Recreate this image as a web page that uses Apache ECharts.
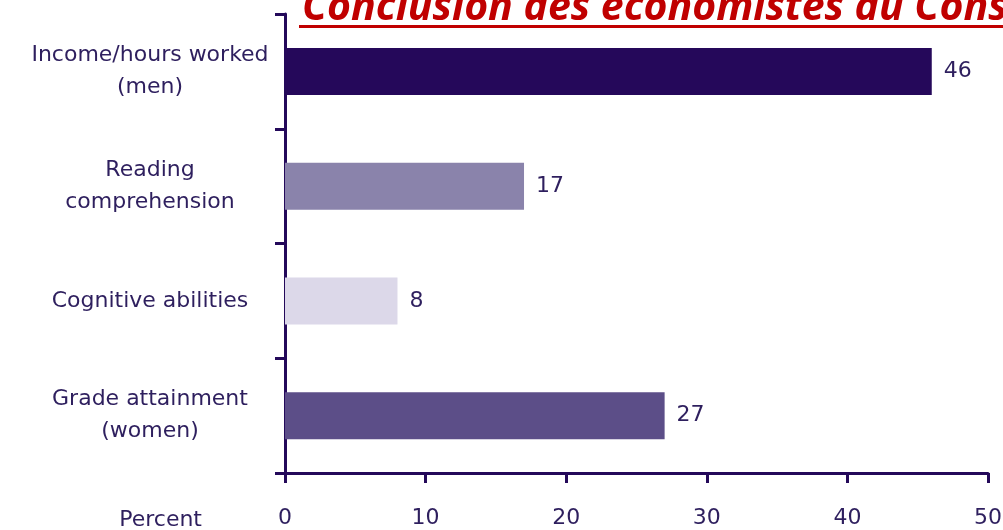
<!DOCTYPE html>
<html>
<head>
<meta charset="utf-8">
<script src="https://cdn.jsdelivr.net/npm/echarts@6/dist/echarts.min.js"></script>
<style>
  html, body { margin: 0; padding: 0; background: #fff; }
  #chart { width: 1003px; height: 530px; }
</style>
</head>
<body>
<div id="chart"></div>
<script>
// data
const categories = [
  'Income/hours worked\n(men)',
  'Reading\ncomprehension',
  'Cognitive abilities',
  'Grade attainment\n(women)'
];
const values = [46, 17, 8, 27];
const barColors = ['#25085a', '#8a83ab', '#dcd8e9', '#5c4e88'];
const xTicks = [0, 10, 20, 30, 40, 50];
const titleText = 'Conclusion des économistes du Conseil';

const axisColor = '#24095a';
const textColor = '#2e1f5e';

let myChart = echarts.init(document.getElementById('chart'));
let option = {
  backgroundColor: '#fff',
  animation: false,
  grid: {
    left: 285,
    right: 15,
    top: 14,
    bottom: 57,
    outerBoundsMode: 'none',
    containLabel: false
  },
  graphic: [
    {
      type: 'text',
      left: 302,
      top: -12,
      style: {
        text: titleText,
        fill: '#c00000',
        font: 'italic bold 41px "Open Sans"'
      }
    },
    {
      type: 'rect',
      shape: { x: 299, y: 25, width: 720, height: 3 },
      style: { fill: '#c00000' }
    }
  ],
  xAxis: {
    type: 'value',
    min: xTicks[0],
    max: xTicks[xTicks.length - 1],
    interval: 10,
    name: 'Percent',
    nameLocation: 'start',
    nameGap: 83,
    nameTextStyle: {
      color: textColor,
      fontFamily: 'DejaVu Sans',
      fontSize: 22,
      verticalAlign: 'top',
      padding: [36, 0, 0, 0]
    },
    splitLine: { show: false },
    axisLine: { show: true, lineStyle: { color: axisColor, width: 3 } },
    axisTick: { show: true, length: 10, lineStyle: { color: axisColor, width: 3 } },
    axisLabel: {
      color: textColor,
      fontFamily: 'DejaVu Sans',
      fontSize: 22,
      margin: 34
    }
  },
  yAxis: {
    type: 'category',
    inverse: true,
    data: categories,
    axisLine: { show: true, lineStyle: { color: axisColor, width: 3 } },
    axisTick: { show: true, length: 10, lineStyle: { color: axisColor, width: 3 } },
    axisLabel: {
      color: textColor,
      fontFamily: 'DejaVu Sans',
      fontSize: 22,
      lineHeight: 32,
      align: 'center',
      margin: 135
    }
  },
  series: [
    {
      type: 'bar',
      barWidth: 47,
      data: values.map(function (v, i) {
        return { value: v, itemStyle: { color: barColors[i] } };
      }),
      label: {
        show: true,
        position: 'right',
        distance: 12,
        color: textColor,
        fontFamily: 'DejaVu Sans',
        fontSize: 22
      }
    }
  ]
};
myChart.setOption(option);
</script>
</body>
</html>
